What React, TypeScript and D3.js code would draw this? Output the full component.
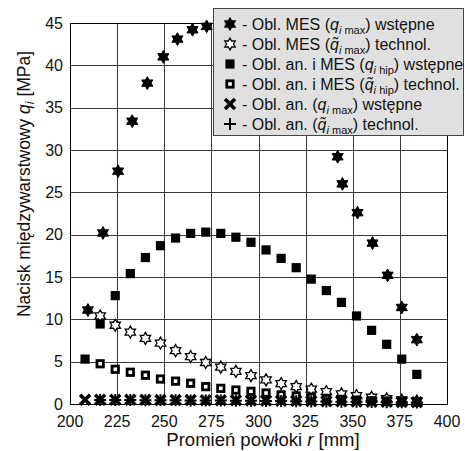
import React from "react";
import * as d3 from "d3";

// Shell radius positions [mm]
const rWst = [208, 216, 224, 232, 240, 248, 256, 264, 272, 280, 288, 296, 304, 312, 320, 328, 336, 344, 352, 360, 368, 376, 384];
const rTech = [216, 224, 232, 240, 248, 256, 264, 272, 280, 288, 296, 304, 312, 320, 328, 336, 344, 352, 360, 368, 376, 384];
const rFem = [209.5, 217.5, 225.5, 233, 241, 249.5, 257, 265, 272.5, 280, 288, 296, 304, 312, 320, 328, 342, 344.5, 352.5, 360.5, 368.5, 376, 384];

// Interlayer pressure [MPa]
const femMaxWst = [11.1, 20.2, 27.5, 33.4, 37.9, 41.0, 43.1, 44.2, 44.6, 45.0, 44.9, 44.3, 43.0, 41.0, 38.2, 34.8, 29.2, 26.0, 22.6, 19.0, 15.2, 11.4, 7.6];
const femMaxTech = [10.4, 9.3, 8.5, 7.75, 7.2, 6.3, 5.6, 4.9, 4.35, 3.85, 3.35, 2.85, 2.4, 2.05, 1.75, 1.45, 1.2, 1.0, 0.8, 0.62, 0.47, 0.35];
const hipWst = [5.3, 9.45, 12.8, 15.4, 17.3, 18.7, 19.6, 20.15, 20.3, 20.15, 19.7, 19.1, 18.2, 17.2, 16.1, 14.75, 13.4, 12.0, 10.4, 8.7, 7.05, 5.3, 3.5];
const hipTech = [4.75, 4.1, 3.75, 3.4, 2.95, 2.7, 2.45, 2.05, 1.85, 1.65, 1.5, 1.3, 1.08, 0.95, 0.8, 0.67, 0.55, 0.45, 0.38, 0.3, 0.25, 0.2];
const anMaxWst = [0.5, 0.5, 0.5, 0.49, 0.49, 0.48, 0.47, 0.46, 0.45, 0.44, 0.43, 0.42, 0.4, 0.38, 0.37, 0.35, 0.33, 0.31, 0.29, 0.27, 0.25, 0.23, 0.21];
const anMaxTech = [0.47, 0.46, 0.46, 0.45, 0.44, 0.43, 0.42, 0.41, 0.4, 0.39, 0.37, 0.36, 0.34, 0.33, 0.31, 0.29, 0.28, 0.26, 0.24, 0.22, 0.2, 0.19];

const xTicks = [200, 225, 250, 275, 300, 325, 350, 375, 400];
const yTicks = [0, 5, 10, 15, 20, 25, 30, 35, 40, 45];

const W = 465;
const H = 451;
const FONT = "'Liberation Sans', Arial, Helvetica, sans-serif";

const x = d3.scaleLinear().domain([200, 400]).range([70, 447]);
const y = d3.scaleLinear().domain([0, 45]).range([404, 23]);

function hexagramPath(cx: number, cy: number, R: number): string {
  const r = R / Math.sqrt(3);
  const pts: [number, number][] = [];
  for (let k = 0; k < 12; k++) {
    const a = (-90 + k * 30) * (Math.PI / 180);
    const rad = k % 2 === 0 ? R : r;
    pts.push([cx + rad * Math.cos(a), cy + rad * Math.sin(a)]);
  }
  return "M" + pts.map((p) => p[0].toFixed(2) + "," + p[1].toFixed(2)).join("L") + "Z";
}

type Kind = "starFill" | "starOpen" | "sqFill" | "sqOpen" | "cross" | "plus";

function Marker({ kind, cx, cy }: { kind: Kind; cx: number; cy: number }) {
  switch (kind) {
    case "starFill":
      return <path d={hexagramPath(cx, cy, 6.4)} fill="#000" stroke="#000" strokeWidth={1} strokeLinejoin="round" />;
    case "starOpen":
      return <path d={hexagramPath(cx, cy, 6)} fill="#fff" stroke="#000" strokeWidth={1.3} />;
    case "sqFill":
      return <rect x={cx - 4.6} y={cy - 4.6} width={9.2} height={9.2} fill="#000" />;
    case "sqOpen":
      return <rect x={cx - 3.2} y={cy - 3.2} width={6.4} height={6.4} fill="#fff" stroke="#000" strokeWidth={2.8} />;
    case "cross":
      return (
        <path
          d={`M${cx - 5},${cy - 5}L${cx + 5},${cy + 5}M${cx - 5},${cy + 5}L${cx + 5},${cy - 5}`}
          stroke="#000"
          strokeWidth={3.5}
        />
      );
    case "plus":
      return (
        <path
          d={`M${cx - 6},${cy}L${cx + 6},${cy}M${cx},${cy - 6}L${cx},${cy + 6}`}
          stroke="#000"
          strokeWidth={2}
        />
      );
  }
}

const series: { kind: Kind; r: number[]; q: number[] }[] = [
  { kind: "starFill", r: rFem, q: femMaxWst },
  { kind: "starOpen", r: rTech, q: femMaxTech },
  { kind: "sqFill", r: rWst, q: hipWst },
  { kind: "sqOpen", r: rTech, q: hipTech },
  { kind: "cross", r: rWst, q: anMaxWst },
  { kind: "plus", r: rTech, q: anMaxTech },
];

// Legend rows: marker kind, text before symbol, tilde flag, subscript, text after
const legendRows: { kind: Kind; pre: string; tilde: boolean; sub: string; post: string }[] = [
  { kind: "starFill", pre: "- Obl. MES (", tilde: false, sub: "max", post: ") wstępne" },
  { kind: "starOpen", pre: "- Obl. MES (", tilde: true, sub: "max", post: ") technol." },
  { kind: "sqFill", pre: "- Obl. an. i MES (", tilde: false, sub: "hip", post: ") wstępne" },
  { kind: "sqOpen", pre: "- Obl. an. i MES (", tilde: true, sub: "hip", post: ") technol." },
  { kind: "cross", pre: "- Obl. an. (", tilde: false, sub: "max", post: ") wstępne" },
  { kind: "plus", pre: "- Obl. an. (", tilde: true, sub: "max", post: ") technol." },
];

export default function App() {
  const legX = 213.5;
  const legY = 8.5;
  const legW = 250;
  const legH = 127;
  const rowY0 = 24;
  const rowDy = 20;

  return (
    <div style={{ position: "absolute", left: 0, top: 0 }}>
      <svg width={W} height={H} style={{ display: "block", background: "#fff" }} fontFamily={FONT}>
        {/* grid */}
        <g stroke="#3a3a3a" strokeWidth={1}>
          {xTicks.map((t) => (
            <line key={"gx" + t} x1={Math.round(x(t)) + 0.5} x2={Math.round(x(t)) + 0.5} y1={y(45)} y2={y(0)} />
          ))}
          {yTicks.map((t) => (
            <line key={"gy" + t} x1={x(200)} x2={x(400)} y1={Math.round(y(t)) + 0.5} y2={Math.round(y(t)) + 0.5} />
          ))}
        </g>
        <rect
          x={Math.round(x(200)) + 0.5}
          y={Math.round(y(45)) + 0.5}
          width={Math.round(x(400)) - Math.round(x(200))}
          height={Math.round(y(0)) - Math.round(y(45))}
          fill="none"
          stroke="#000"
          strokeWidth={1}
        />

        {/* tick labels */}
        <g fontSize={16} fill="#111">
          {xTicks.map((t) => (
            <text key={"tx" + t} x={x(t)} y={427} textAnchor="middle">
              {t}
            </text>
          ))}
          {yTicks.map((t) => (
            <text key={"ty" + t} x={63} y={y(t) + 5.5} textAnchor="end">
              {t}
            </text>
          ))}
        </g>

        {/* axis titles */}
        <text x={263} y={446} textAnchor="middle" fontSize={18.5} fill="#111">
          Promień powłoki <tspan fontStyle="italic">r</tspan> [mm]
        </text>
        <text transform="translate(30,184) rotate(-90)" textAnchor="middle" fontSize={17.5} fill="#111">
          Nacisk międzywarstwowy <tspan fontStyle="italic">q</tspan>
          <tspan fontStyle="italic" fontSize={12} dy={4}>i</tspan>
          <tspan dy={-4}> [MPa]</tspan>
        </text>

        {/* data */}
        {series.map((s, si) => (
          <g key={"s" + si}>
            {s.q.map((v, i) => (
              <Marker key={i} kind={s.kind} cx={x(s.r[i])} cy={y(v)} />
            ))}
          </g>
        ))}

        {/* legend */}
        <rect x={legX} y={legY} width={legW} height={legH} fill="#e0e0e0" stroke="#444" strokeWidth={1} />
        {legendRows.map((row, i) => {
          const cy = rowY0 + i * rowDy;
          return (
            <g key={"l" + i}>
              <Marker kind={row.kind} cx={230} cy={cy} />
              <text x={242} y={cy + 5.5} fontSize={16} fill="#111">
                {row.pre}
                <tspan fontStyle="italic">{row.tilde ? "q\u0303" : "q"}</tspan>
                <tspan fontStyle="italic" fontSize={11} dy={4}>i</tspan>
                <tspan fontSize={11}> {row.sub}</tspan>
                <tspan dy={-4}>{row.post}</tspan>
              </text>
            </g>
          );
        })}
      </svg>
    </div>
  );
}
